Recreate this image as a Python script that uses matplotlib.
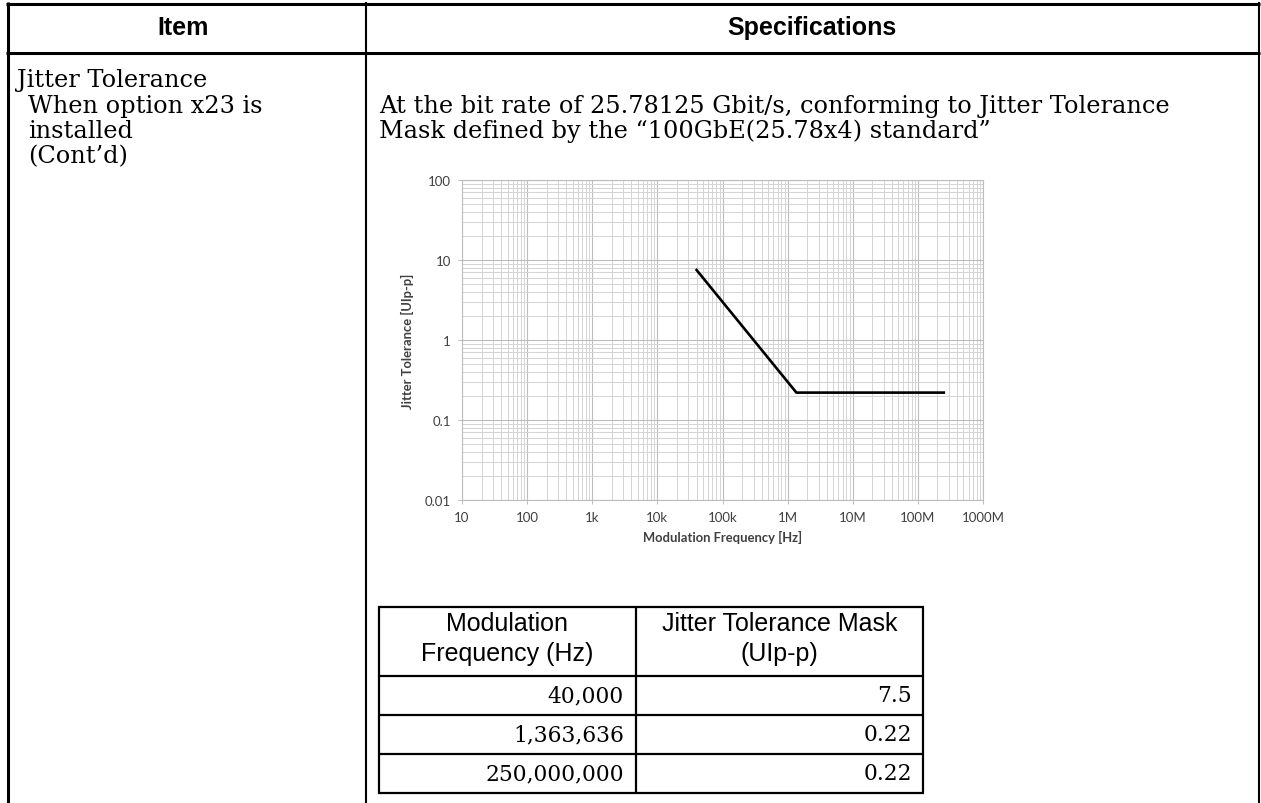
import matplotlib
matplotlib.use("Agg")
import matplotlib.pyplot as plt
from matplotlib.ticker import FixedLocator, LogLocator, NullFormatter

# mask points (Hz, UIp-p)
freq_hz = [40000, 1363636, 250000000]
mask_uipp = [7.5, 0.22, 0.22]

x_ticks = [1e1, 1e2, 1e3, 1e4, 1e5, 1e6, 1e7, 1e8, 1e9]
x_tick_labels = ["10", "100", "1k", "10k", "100k", "1M", "10M", "100M", "1000M"]
y_ticks = [0.01, 0.1, 1, 10, 100]
y_tick_labels = ["0.01", "0.1", "1", "10", "100"]

item_lines = ["Jitter Tolerance", "When option x23 is", "installed", "(Cont\u2019d)"]
spec_lines = ["At the bit rate of 25.78125 Gbit/s, conforming to Jitter Tolerance",
              "Mask defined by the \u201c100GbE(25.78x4) standard\u201d"]
col_heads = [["Modulation", "Frequency (Hz)"], ["Jitter Tolerance Mask", "(UIp-p)"]]

W, H = 1261, 804
fig = plt.figure(figsize=(W / 100, H / 100), dpi=100)

# page layer in pixel coordinates
bg = fig.add_axes([0, 0, 1, 1])
bg.set_xlim(0, W)
bg.set_ylim(H, 0)
bg.axis("off")

def hline(y, x0, x1, lw):
    bg.plot([x0, x1], [y, y], color="black", lw=lw, solid_capstyle="butt")

def vline(x, y0, y1, lw):
    bg.plot([x, x], [y0, y1], color="black", lw=lw, solid_capstyle="butt")

# outer spec table
hline(4.5, 6, 1260, 2.2)
hline(53.5, 6, 1260, 2.2)
vline(7.5, 3, H, 2.2)
vline(1258.5, 3, H, 1.5)
vline(366, 3, H, 1.5)

sans = "Liberation Sans"
serif = "DejaVu Serif"
bg.text(183, 28, "Item", ha="center", va="center", fontsize=18,
        fontweight="bold", family=sans)
bg.text(812, 28, "Specifications", ha="center", va="center", fontsize=18,
        fontweight="bold", family=sans)

item_pos = [(17, 80), (28, 107), (28, 131), (28, 157)]
for (x, y), s in zip(item_pos, item_lines):
    bg.text(x, y, s, ha="left", va="center", fontsize=17.3, family=serif)
for y, s in zip([107, 131], spec_lines):
    bg.text(379, y, s, ha="left", va="center", fontsize=17.3, family=serif)

# small value table
tx0, tx1, tx2 = 379, 636, 923
ty = [608, 677, 716, 755, 794]
for y in ty:
    hline(y, tx0 - 1, tx2 + 1, 1.6)
for x in (tx0, tx1, tx2):
    vline(x, ty[0], ty[-1], 1.6)
for cx, (l1, l2) in zip([(tx0 + tx1) / 2, (tx1 + tx2) / 2], col_heads):
    bg.text(cx, 624, l1, ha="center", va="center", fontsize=18, family=sans)
    bg.text(cx, 654, l2, ha="center", va="center", fontsize=18, family=sans)
for i, (f, m) in enumerate(zip(freq_hz, mask_uipp)):
    yc = (ty[i + 1] + ty[i + 2]) / 2
    bg.text(tx1 - 12, yc, f"{f:,}", ha="right", va="center", fontsize=15.7, family=serif)
    bg.text(tx2 - 11, yc, f"{m:g}", ha="right", va="center", fontsize=15.7, family=serif)

# chart
L, R, T, B = 462, 983, 181, 501
ax = fig.add_axes([L / W, 1 - B / H, (R - L) / W, (B - T) / H])
ax.set_xscale("log")
ax.set_yscale("log")
ax.set_xlim(10, 1e9)
ax.set_ylim(0.01, 100)
ax.xaxis.set_major_locator(FixedLocator(x_ticks))
ax.set_xticklabels(x_tick_labels)
ax.yaxis.set_major_locator(FixedLocator(y_ticks))
ax.set_yticklabels(y_tick_labels)
ax.xaxis.set_minor_locator(LogLocator(base=10, subs=range(2, 10), numticks=20))
ax.yaxis.set_minor_locator(LogLocator(base=10, subs=range(2, 10), numticks=20))
ax.xaxis.set_minor_formatter(NullFormatter())
ax.yaxis.set_minor_formatter(NullFormatter())
ax.grid(which="major", color="#bdbdbd", lw=0.8)
ax.grid(which="minor", color="#d4d4d4", lw=0.7)
ax.tick_params(which="minor", length=0)
ax.tick_params(which="major", length=3, width=0.7, color="#bdbdbd",
               labelsize=9.5, labelcolor="#404040")
ax.tick_params(axis="x", pad=5)
ax.tick_params(axis="y", pad=5)
for lab in ax.get_xticklabels() + ax.get_yticklabels():
    lab.set_family("Lato")
for sp in ax.spines.values():
    sp.set_color("#bdbdbd")
    sp.set_linewidth(0.8)
ax.set_axisbelow(True)

ax.plot(freq_hz, mask_uipp, color="black", lw=1.9)

ax.set_xlabel("Modulation Frequency [Hz]", fontsize=9.4, fontweight="bold",
              family="Lato", color="#404040", labelpad=5)
ax.set_ylabel("Jitter Tolerance [UIp-p]", fontsize=9.4, fontweight="bold",
              family="Lato", color="#404040", labelpad=8)

fig.savefig("out.png", dpi=100)
